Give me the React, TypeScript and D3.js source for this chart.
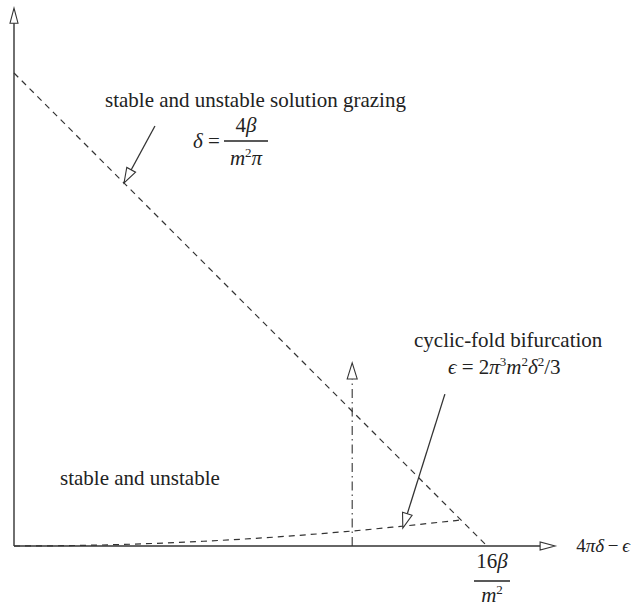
import * as d3 from "d3";

// dimensionless coordinates: x = (4πδ − ε) / (16β/m²), y = δ-axis scaled
const diagonal: [number, number][] = [
  [0, 1],
  [1, 0],
];
const foldX = [0, 0.1, 0.2, 0.3, 0.4, 0.5, 0.6, 0.7, 0.8, 0.9, 0.945];
const foldY = [0, 0.0006, 0.0025, 0.0056, 0.01, 0.0155, 0.0223, 0.0304, 0.0397, 0.0502, 0.055];
const dashDot: [number, number][] = [
  [0.715, 0],
  [0.715, 0.387],
];
const arrowA: [number, number][] = [
  [0.298, 0.888],
  [0.2326, 0.7674],
];
const arrowB: [number, number][] = [
  [0.911, 0.321],
  [0.822, 0.038],
];
const axisEnd = { x: 1.144, y: 1.137 };

const W = 633;
const H = 607;
const ink = "#333";

function openHead(p0: [number, number], tip: [number, number], len = 15, half = 4.5) {
  const dx = tip[0] - p0[0];
  const dy = tip[1] - p0[1];
  const d = Math.hypot(dx, dy);
  const ux = dx / d;
  const uy = dy / d;
  const bx = tip[0] - ux * len;
  const by = tip[1] - uy * len;
  return `M${tip[0]},${tip[1]}L${bx - uy * half},${by + ux * half}L${bx + uy * half},${by - ux * half}Z`;
}

export default function App() {
  const x = d3.scaleLinear([0, 1], [14, 487]);
  const y = d3.scaleLinear([0, 1], [546, 73]);
  const line = d3.line<[number, number]>().x((d) => x(d[0])).y((d) => y(d[1]));
  const fold: [number, number][] = foldX.map((v, i) => [v, foldY[i]]);
  const px = (d: [number, number]): [number, number] => [x(d[0]), y(d[1])];

  const xAxisEnd: [number, number] = [x(axisEnd.x), y(0)];
  const yAxisEnd: [number, number] = [x(0), y(axisEnd.y)];
  const dashTop = px(dashDot[1]);

  const serif = "Liberation Serif";
  const fs = 21;
  const sup = 13;

  return (
    <svg width={W} height={H} style={{ position: "absolute", left: 0, top: 0 }}>
      <g fill="none" stroke={ink}>
        {/* axes */}
        <line x1={x(0)} y1={y(0)} x2={xAxisEnd[0] - 14} y2={y(0)} strokeWidth={1.4} />
        <line x1={x(0)} y1={y(0)} x2={x(0)} y2={yAxisEnd[1] + 14} strokeWidth={1.4} />
        <path d={openHead([x(0), y(0)], xAxisEnd, 15, 4)} fill="white" strokeWidth={1.1} />
        <path d={openHead([x(0), y(0)], yAxisEnd, 15, 4)} fill="white" strokeWidth={1.1} />

        {/* grazing line */}
        <path d={line(diagonal) ?? ""} strokeWidth={1.2} strokeDasharray="6,5" />
        {/* cyclic-fold curve */}
        <path d={line.curve(d3.curveMonotoneX)(fold) ?? ""} strokeWidth={1.2} strokeDasharray="6,5" />
        {/* dash-dot vertical */}
        <line
          x1={x(dashDot[0][0])}
          y1={y(0)}
          x2={dashTop[0]}
          y2={dashTop[1] + 14}
          strokeWidth={1.1}
          strokeDasharray="9,4,1.5,4"
        />
        <path d={openHead(px(dashDot[0]), dashTop, 16, 5)} fill="white" strokeWidth={1.1} />

        {/* annotation arrows */}
        {[arrowA, arrowB].map((a, i) => {
          const p0 = px(a[0]);
          const tip = px(a[1]);
          const d = Math.hypot(tip[0] - p0[0], tip[1] - p0[1]);
          const ex = tip[0] - ((tip[0] - p0[0]) / d) * 14;
          const ey = tip[1] - ((tip[1] - p0[1]) / d) * 14;
          return (
            <g key={i}>
              <line x1={p0[0]} y1={p0[1]} x2={ex} y2={ey} strokeWidth={1.3} />
              <path d={openHead(p0, tip, 15, 5)} fill="white" strokeWidth={1.1} />
            </g>
          );
        })}
      </g>

      <g fontFamily={serif} fontSize={fs} fill="#222">
        <text x={105} y={107}>stable and unstable solution grazing</text>
        <text x={193} y={148}>
          <tspan fontStyle="italic">δ</tspan> =
        </text>
        <line x1={224} y1={141} x2={268} y2={141} stroke="#222" strokeWidth={1.4} />
        <text x={246} y={132} textAnchor="middle">
          4<tspan fontStyle="italic">β</tspan>
        </text>
        <text x={246} y={165} textAnchor="middle" fontStyle="italic">
          m<tspan fontSize={sup} dy={-8} fontStyle="normal">2</tspan>
          <tspan dy={8}>π</tspan>
        </text>

        <text x={414} y={347}>cyclic-fold bifurcation</text>
        <text x={448} y={374}>
          <tspan fontStyle="italic">ϵ</tspan> = 2<tspan fontStyle="italic">π</tspan>
          <tspan fontSize={sup} dy={-8}>3</tspan>
          <tspan dy={8} fontStyle="italic">m</tspan>
          <tspan fontSize={sup} dy={-8}>2</tspan>
          <tspan dy={8} fontStyle="italic">δ</tspan>
          <tspan fontSize={sup} dy={-8}>2</tspan>
          <tspan dy={8}>/3</tspan>
        </text>

        <text x={630} y={552} textAnchor="end" fontSize={19}>
          4<tspan fontStyle="italic">πδ</tspan>{"\u2009−\u2009"}<tspan fontStyle="italic">ϵ</tspan>
        </text>

        <text x={60} y={485}>stable and unstable</text>

        <text x={492} y={568} textAnchor="middle">
          16<tspan fontStyle="italic">β</tspan>
        </text>
        <line x1={474} y1={581} x2={510} y2={581} stroke="#222" strokeWidth={1.4} />
        <text x={492} y={602} textAnchor="middle" fontStyle="italic">
          m<tspan fontSize={sup} dy={-8} fontStyle="normal">2</tspan>
        </text>
      </g>
    </svg>
  );
}
